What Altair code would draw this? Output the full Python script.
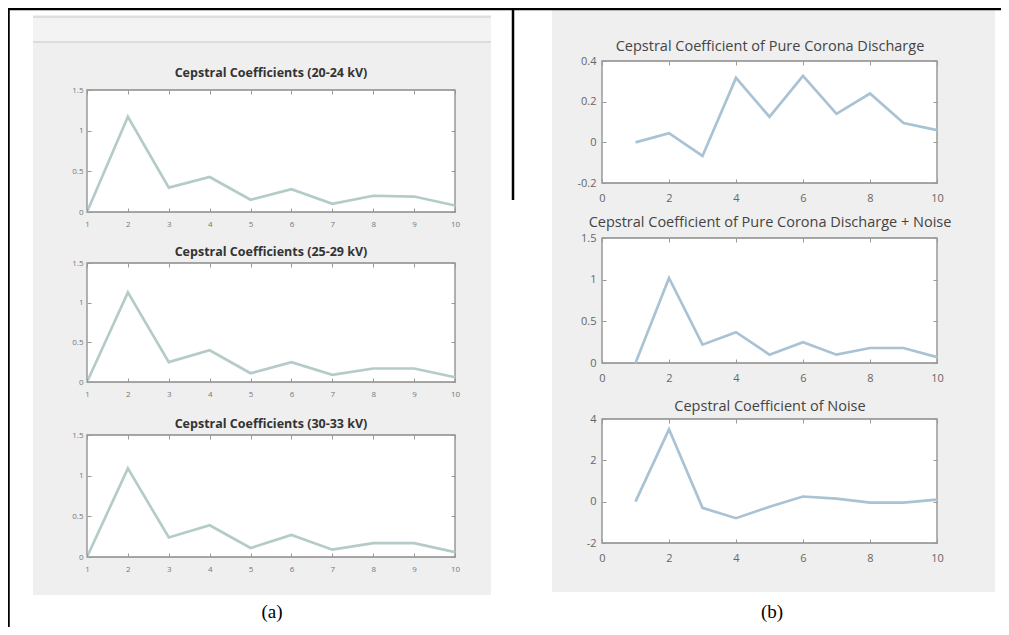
import altair as alt
import pandas as pd

# ---------------- data ----------------
coef_index = list(range(1, 11))
cc_20_24 = [0.0, 1.17, 0.30, 0.43, 0.15, 0.28, 0.10, 0.20, 0.19, 0.08]
cc_25_29 = [0.0, 1.13, 0.25, 0.40, 0.11, 0.25, 0.09, 0.17, 0.17, 0.06]
cc_30_33 = [0.0, 1.09, 0.24, 0.39, 0.11, 0.27, 0.09, 0.17, 0.17, 0.06]
cc_pure = [0.0, 0.045, -0.067, 0.317, 0.125, 0.327, 0.14, 0.24, 0.095, 0.06]
cc_pure_noise = [0.0, 1.02, 0.22, 0.37, 0.10, 0.25, 0.10, 0.18, 0.18, 0.07]
cc_noise = [0.0, 3.5, -0.3, -0.8, -0.25, 0.25, 0.15, -0.05, -0.05, 0.1]

titles_a = ["Cepstral Coefficients (20-24 kV)",
            "Cepstral Coefficients (25-29 kV)",
            "Cepstral Coefficients (30-33 kV)"]
titles_b = ["Cepstral Coefficient of Pure Corona Discharge",
            "Cepstral Coefficient of Pure Corona Discharge + Noise",
            "Cepstral Coefficient of Noise"]

xticks_a = list(range(1, 11))
yticks_a = [0, 0.5, 1, 1.5]
xticks_b = [0, 2, 4, 6, 8, 10]
yticks_b1 = [-0.2, 0, 0.2, 0.4]
yticks_b2 = [0, 0.5, 1, 1.5]
yticks_b3 = [-2, 0, 2, 4]

# ---------------- layout ----------------
W, H = 993, 619
OX, OY = 8, 8
FONT = "Open Sans"


def subplot(vals, xdom, xticks, ydom, yticks, box, color, lab_size, lab_color,
            xpad, ypad):
    x0, x1, y0, y1 = [v - o for v, o in zip(box, (OX, OX, OY, OY))]
    df = pd.DataFrame({"x": coef_index, "y": vals})
    frame = pd.DataFrame({"x0": [xdom[0]], "x1": [xdom[1]],
                          "y0": [ydom[0]], "y1": [ydom[1]]})
    xs = alt.Scale(domain=xdom, range=[x0, x1], nice=False, zero=False)
    ys = alt.Scale(domain=ydom, range=[y1, y0], nice=False, zero=False)
    common = dict(grid=False, domain=False, tickSize=4, tickColor="#9a9a9a",
                  tickWidth=1, title=None, zindex=2)
    labs = dict(labelFont=FONT, labelFontSize=lab_size, labelColor=lab_color,
                labelFlush=False, labelOverlap=False,
                labelExpr="'' + datum.value")
    box_layer = alt.Chart(frame).mark_rect(
        fill="white", stroke="#8a8a8a", strokeWidth=1.3
    ).encode(
        x=alt.X("x0:Q", scale=xs,
                axis=alt.Axis(orient="top", values=xticks, labels=False,
                              offset=-(y0 + 4), **common)),
        x2="x1",
        y=alt.Y("y0:Q", scale=ys,
                axis=alt.Axis(orient="right", values=yticks, labels=False,
                              offset=(x1 - 4) - W, **common)),
        y2="y1",
    )
    line_layer = alt.Chart(df).mark_line(
        color=color, strokeWidth=2.7, interpolate="linear"
    ).encode(
        x=alt.X("x:Q", scale=xs,
                axis=alt.Axis(orient="bottom", values=xticks,
                              offset=(y1 - 4) - H, labelPadding=xpad,
                              **labs, **common)),
        y=alt.Y("y:Q", scale=ys,
                axis=alt.Axis(orient="left", values=yticks,
                              offset=-(x0 + 4), labelPadding=ypad,
                              **labs, **common)),
    )
    return alt.layer(box_layer, line_layer).resolve_scale(
        x="shared", y="shared").resolve_axis(x="independent", y="independent")


one = pd.DataFrame({"k": [0]})


def rect(x0, x1, y0, y1, fill):
    return alt.Chart(one).mark_rect(fill=fill).encode(
        x=alt.value(x0 - OX), x2=alt.value(x1 - OX),
        y=alt.value(y0 - OY), y2=alt.value(y1 - OY))


def rule(x0, x1, y0, y1, color, w):
    return alt.Chart(one).mark_rule(color=color, strokeWidth=w).encode(
        x=alt.value(x0 - OX), x2=alt.value(x1 - OX),
        y=alt.value(y0 - OY), y2=alt.value(y1 - OY))


def label(text, x, y, size, color, weight="normal", font=FONT):
    return alt.Chart(one).mark_text(
        fontSize=size, font=font, fontWeight=weight, color=color,
        align="center", baseline="middle"
    ).encode(x=alt.value(x - OX), y=alt.value(y - OY), text=alt.value(text))


decor = [
    rect(33, 491, 15, 595, "#efefef"),
    rect(33, 491, 17, 42, "#f3f3f3"),
    rule(33, 491, 17, 17, "#dedede", 2),
    rule(33, 491, 42, 42, "#dcdcdc", 2),
    rect(552, 995, 10, 592, "#efefef"),
]

boxes_a = [(87, 455, 90, 212), (87, 455, 263, 382), (87, 455, 435, 557)]
boxes_b = [(602, 937, 61, 183), (602, 937, 238, 363), (602, 937, 419, 543)]
title_y_a = [73, 252, 424]
title_y_b = [47, 223, 407]

col_a = "#b5cbc9"
col_b = "#a9c3d4"

plots = [
    subplot(cc_20_24, [1, 10], xticks_a, [0, 1.5], yticks_a, boxes_a[0], col_a, 8, "#777", 8, 4),
    subplot(cc_25_29, [1, 10], xticks_a, [0, 1.5], yticks_a, boxes_a[1], col_a, 8, "#777", 8, 4),
    subplot(cc_30_33, [1, 10], xticks_a, [0, 1.5], yticks_a, boxes_a[2], col_a, 8, "#777", 8, 4),
    subplot(cc_pure, [0, 10], xticks_b, [-0.2, 0.4], yticks_b1, boxes_b[0], col_b, 11, "#666", 9, 6),
    subplot(cc_pure_noise, [0, 10], xticks_b, [0, 1.5], yticks_b2, boxes_b[1], col_b, 11, "#666", 9, 6),
    subplot(cc_noise, [0, 10], xticks_b, [-2, 4], yticks_b3, boxes_b[2], col_b, 11, "#666", 9, 6),
]

texts = []
for t, ty in zip(titles_a, title_y_a):
    texts.append(label(t, 271, ty, 12.5, "#333", "bold"))
for t, ty in zip(titles_b, title_y_b):
    texts.append(label(t, 770, ty, 14.5, "#444"))
texts.append(label("(a)", 272, 612, 19, "#000", font="Liberation Serif"))
texts.append(label("(b)", 772, 612, 19, "#000", font="Liberation Serif"))

borders = [
    rule(8.5, 8.5, 8, 635, "#000", 2.5),
    rule(8, 1009, 9, 9, "#000", 2.5),
    rule(513, 513, 8, 200, "#000", 2.5),
]

chart = alt.layer(*decor, *plots, *texts, *borders).resolve_scale(
    x="independent", y="independent"
).resolve_axis(
    x="independent", y="independent"
).properties(
    width=W, height=H, padding=0, autosize=alt.AutoSizeParams(type="none")
).configure_view(stroke=None).configure(background="white")

chart.save("out.html", embed_options={"renderer": "svg", "actions": False})
